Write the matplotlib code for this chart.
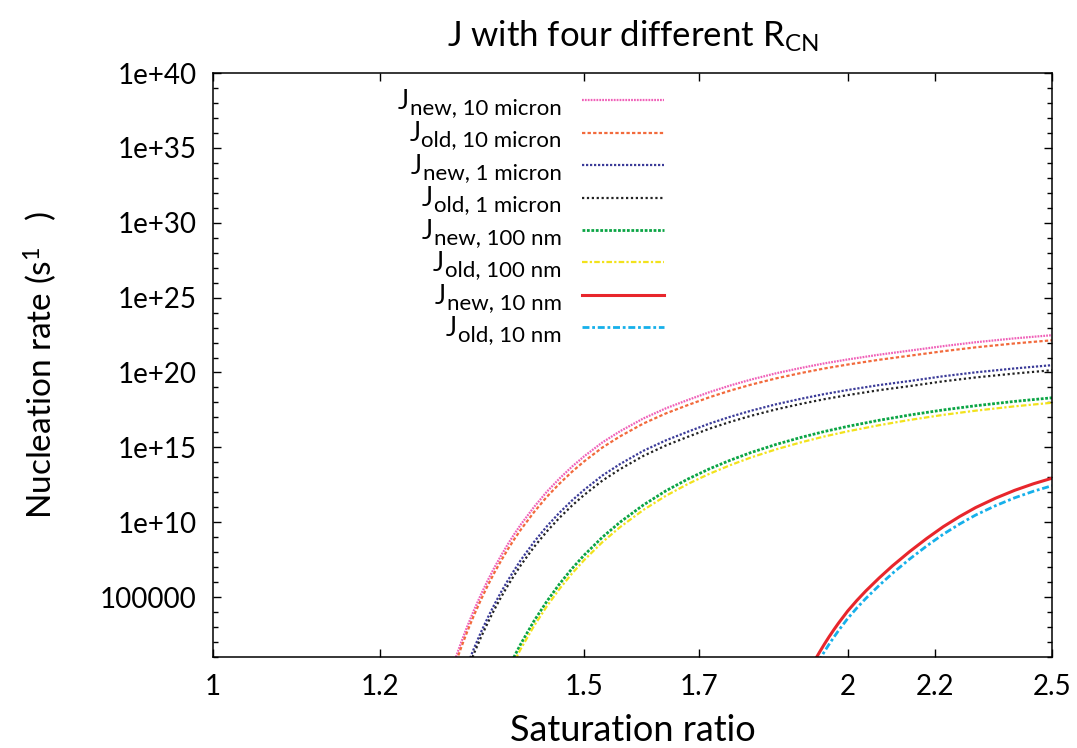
import numpy as np
import matplotlib
matplotlib.use("Agg")
import matplotlib.pyplot as plt
from matplotlib.ticker import FixedLocator, NullLocator, NullFormatter
from matplotlib.transforms import IdentityTransform

# ---------------- data (log10 of nucleation rate) -------------
S_10um = [1.29, 1.295, 1.30, 1.305, 1.31, 1.315, 1.32, 1.33, 1.34, 1.35, 1.36, 1.37,
          1.38, 1.39, 1.40, 1.42, 1.44, 1.46, 1.48, 1.50, 1.53, 1.56, 1.60, 1.64,
          1.68, 1.72, 1.76, 1.80, 1.85, 1.90, 1.95, 2.00, 2.07, 2.14, 2.22, 2.30,
          2.40, 2.50]
logJ_new_10um = [-1.02, -0.26, 0.46, 1.15, 1.80, 2.43, 3.03, 4.15, 5.17, 6.12, 6.99,
                 7.79, 8.54, 9.23, 9.87, 11.02, 12.04, 12.92, 13.71, 14.41, 15.33,
                 16.08, 16.93, 17.61, 18.17, 18.69, 19.14, 19.53, 19.95, 20.30, 20.61,
                 20.87, 21.19, 21.46, 21.76, 22.02, 22.28, 22.49]
logJ_old_10um = [-1.36, -0.60, 0.12, 0.81, 1.46, 2.09, 2.69, 3.81, 4.83, 5.78, 6.65,
                 7.45, 8.20, 8.89, 9.53, 10.68, 11.70, 12.58, 13.37, 14.07, 14.99,
                 15.74, 16.59, 17.27, 17.83, 18.35, 18.80, 19.19, 19.61, 19.96, 20.27,
                 20.53, 20.85, 21.12, 21.42, 21.68, 21.94, 22.15]

S_1um = [1.31, 1.315, 1.32, 1.33, 1.34, 1.35, 1.36, 1.37, 1.38, 1.39, 1.40, 1.42,
         1.44, 1.46, 1.48, 1.50, 1.53, 1.56, 1.60, 1.64, 1.68, 1.72, 1.76, 1.80,
         1.85, 1.90, 1.95, 2.00, 2.07, 2.14, 2.22, 2.30, 2.40, 2.50]
logJ_new_1um = [-0.81, -0.16, 0.45, 1.60, 2.66, 3.63, 4.53, 5.36, 6.12, 6.83, 7.50,
                8.69, 9.73, 10.64, 11.45, 12.17, 13.12, 13.89, 14.77, 15.47, 16.05,
                16.59, 17.05, 17.45, 17.88, 18.24, 18.56, 18.83, 19.16, 19.43, 19.75,
                20.01, 20.27, 20.49]
logJ_old_1um = [-1.15, -0.50, 0.11, 1.26, 2.32, 3.29, 4.19, 5.02, 5.78, 6.49, 7.16,
                8.35, 9.39, 10.30, 11.11, 11.83, 12.78, 13.55, 14.43, 15.13, 15.71,
                16.25, 16.71, 17.11, 17.54, 17.90, 18.22, 18.49, 18.82, 19.09, 19.41,
                19.67, 19.93, 20.15]

S_100nm = [1.38, 1.39, 1.40, 1.42, 1.44, 1.46, 1.48, 1.50, 1.53, 1.56, 1.60, 1.64,
           1.68, 1.72, 1.76, 1.80, 1.85, 1.90, 1.95, 2.00, 2.07, 2.14, 2.22, 2.30,
           2.40, 2.50]
logJ_new_100nm = [0.17, 1.07, 1.91, 3.41, 4.72, 5.88, 6.90, 7.81, 9.00, 10.01, 11.15,
                  12.10, 12.89, 13.57, 14.15, 14.66, 15.20, 15.66, 16.06, 16.40, 16.81,
                  17.16, 17.50, 17.78, 18.07, 18.31]
logJ_old_100nm = [-0.16, 0.74, 1.58, 3.08, 4.39, 5.55, 6.57, 7.48, 8.67, 9.68, 10.82,
                  11.77, 12.56, 13.24, 13.82, 14.33, 14.87, 15.33, 15.73, 16.07, 16.48,
                  16.83, 17.17, 17.45, 17.74, 17.98]

S_10nm = [1.92, 1.93, 1.94, 1.95, 1.96, 1.97, 1.98, 2.00, 2.02, 2.04, 2.07, 2.10,
          2.14, 2.18, 2.22, 2.26, 2.30, 2.35, 2.40, 2.45, 2.50]
logJ_new_10nm = [0.25, 0.81, 1.35, 1.87, 2.36, 2.82, 3.26, 4.07, 4.77, 5.41, 6.28,
                 7.08, 8.04, 8.91, 9.70, 10.38, 10.98, 11.60, 12.13, 12.57, 12.94]
logJ_old_10nm = [-0.25, 0.31, 0.85, 1.37, 1.86, 2.32, 2.76, 3.57, 4.27, 4.91, 5.78,
                 6.58, 7.54, 8.41, 9.20, 9.88, 10.48, 11.10, 11.63, 12.07, 12.44]

legend_subs = ["new, 10 micron", "old, 10 micron", "new, 1 micron", "old, 1 micron",
               "new, 100 nm", "old, 100 nm", "new, 10 nm", "old, 10 nm"]

xticks = [1, 1.2, 1.5, 1.7, 2, 2.2, 2.5]
xtick_labels = ["1", "1.2", "1.5", "1.7", "2", "2.2", "2.5"]
ytick_exps = [5, 10, 15, 20, 25, 30, 35, 40]
ytick_labels = ["100000", "1e+10", "1e+15", "1e+20", "1e+25", "1e+30", "1e+35", "1e+40"]

title = r"J with four different R$_{\mathrm{CN}}$"
xlabel = "Saturation ratio"
ylabel = r"Nucleation rate (s$^{1}$   )"

# ---------------- styling ----------------
FONT = ["Lato", "DejaVu Sans"]
plt.rcParams["font.family"] = FONT
plt.rcParams["mathtext.fontset"] = "custom"
plt.rcParams["mathtext.rm"] = "Lato"
plt.rcParams["mathtext.it"] = "Lato:italic"
plt.rcParams["mathtext.bf"] = "Lato:bold"

W, H = 1077, 748
fig = plt.figure(figsize=(W / 100, H / 100), dpi=100)
L, R, T, B = 213, 1052, 73, 657
ax = fig.add_axes([L / W, 1 - B / H, (R - L) / W, (B - T) / H])

series = [
    (S_10um, logJ_new_10um, dict(color="#f060b8", lw=1.6, ls=(0, (0.8, 0.5)))),
    (S_10um, logJ_old_10um, dict(color="#f26a3c", lw=1.6, ls=(0, (1.5, 1.0)))),
    (S_1um, logJ_new_1um, dict(color="#3b3b98", lw=1.6, ls=(0, (1.0, 0.8)))),
    (S_1um, logJ_old_1um, dict(color="#222222", lw=1.6, ls=(0, (1.0, 1.2)))),
    (S_100nm, logJ_new_100nm, dict(color="#0aa544", lw=2.0, ls=(0, (1.0, 0.6)))),
    (S_100nm, logJ_old_100nm, dict(color="#f2e21c", lw=1.6, ls=(0, (2.5, 1.0, 1.0, 1.0)))),
    (S_10nm, logJ_new_10nm, dict(color="#e8262c", lw=2.2, ls="-")),
    (S_10nm, logJ_old_10nm, dict(color="#16b0ea", lw=2.0, ls=(0, (2.5, 1.0, 1.0, 1.0)))),
]
handles = []
for s, lj, st in series:
    h, = ax.plot(s, 10.0 ** np.asarray(lj), **st)
    handles.append(h)

ax.set_xscale("log")
ax.set_yscale("log")
ax.set_xlim(1, 2.5)
ax.set_ylim(1e1, 1e40)
ax.xaxis.set_major_locator(FixedLocator(xticks))
ax.set_xticklabels(xtick_labels)
ax.xaxis.set_minor_locator(NullLocator())
ax.yaxis.set_major_locator(FixedLocator([10.0 ** e for e in ytick_exps]))
ax.set_yticklabels(ytick_labels)
ax.yaxis.set_minor_locator(FixedLocator([10.0 ** k for k in range(1, 41)]))
ax.yaxis.set_minor_formatter(NullFormatter())

ax.tick_params(which="both", direction="in", top=True, right=True, colors="black",
               width=1.0)
ax.tick_params(which="major", length=6, labelsize=20)
ax.tick_params(axis="x", which="major", pad=12)
ax.tick_params(axis="y", which="major", pad=12)
ax.tick_params(which="minor", length=3.5)
for sp in ax.spines.values():
    sp.set_linewidth(1.1)
    sp.set_color("black")

ax.set_title(title, fontsize=25, pad=19)
ax.set_xlabel(xlabel, fontsize=26)
ax.xaxis.set_label_coords(0.5, -0.097)
ax.set_ylabel(ylabel, fontsize=24)
ax.yaxis.set_label_coords(-0.183, 0.5)

leg = ax.legend(handles, legend_subs, loc="upper right",
                bbox_to_anchor=((664 - L) / (R - L), 1 - (92 - T) / (B - T)),
                frameon=False, markerfirst=False, fontsize=16, handlelength=3.7,
                handletextpad=0.9, labelspacing=0.56, borderpad=0, borderaxespad=0)
for t in leg.get_texts():
    t.set_position((0, -6))

fig.canvas.draw()
renderer = fig.canvas.get_renderer()
for t in leg.get_texts():
    bb = t.get_window_extent(renderer)
    _, _, d = renderer.get_text_width_height_descent("lp", t.get_fontproperties(), ismath=False)
    base = bb.y0 + d
    fig.text(bb.x0 - 1, base + 5, "J", ha="right", va="baseline", fontsize=19,
             transform=IdentityTransform())

fig.savefig("out.png", dpi=100)
